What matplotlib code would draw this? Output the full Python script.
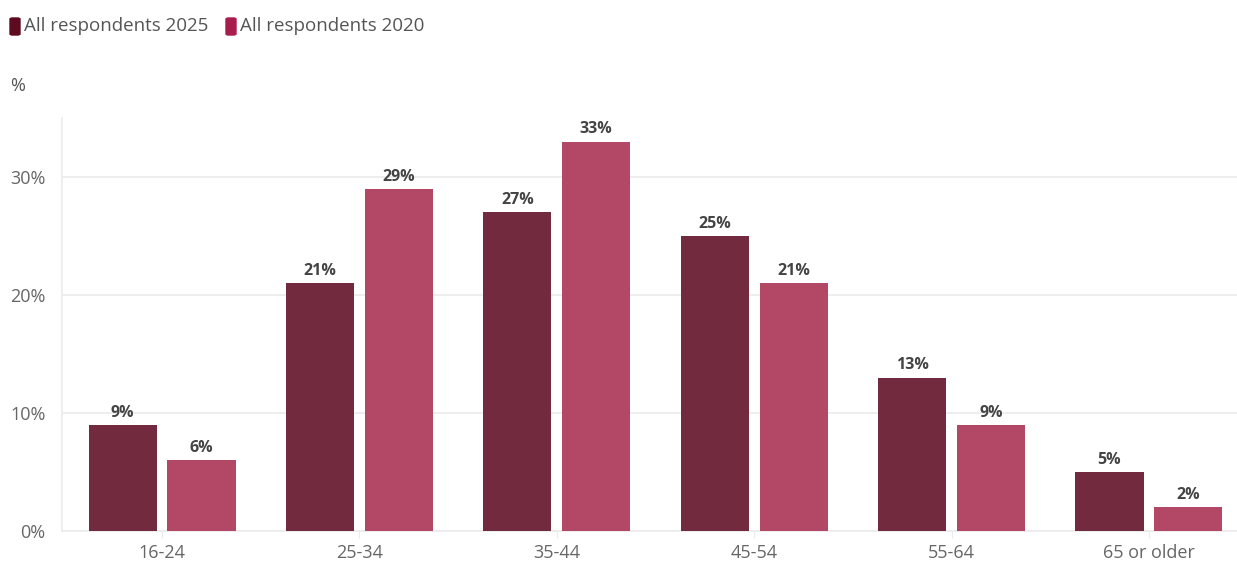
import numpy as np
import matplotlib.pyplot as plt
from matplotlib.patches import FancyBboxPatch

# Age distribution of respondents, 2025 vs 2020
categories = ["16-24", "25-34", "35-44", "45-54", "55-64", "65 or older"]
resp_2025 = [9, 21, 27, 25, 13, 5]
resp_2020 = [6, 29, 33, 21, 9, 2]
yticks = [0, 10, 20, 30]

plt.rcParams['font.family'] = ['Open Sans', 'DejaVu Sans']

dark = "#722a3e"
pink = "#b24766"
grid_c = "#ebebeb"
text_c = "#666666"

fig = plt.figure(figsize=(12.37, 5.62), dpi=100)
ax = fig.add_axes([62/1237, 1 - 531/562, 1 - 62/1237, (531 - 118)/562])

x = np.arange(len(categories))
w = 0.345
b1 = ax.bar(x - 0.2, resp_2025, w, color=dark, zorder=3)
b2 = ax.bar(x + 0.2, resp_2020, w, color=pink, zorder=3)

for bars, vals in ((b1, resp_2025), (b2, resp_2020)):
    for bar, v in zip(bars, vals):
        ax.annotate(f"{v}%", (bar.get_x() + bar.get_width()/2, v),
                    xytext=(0, 3), textcoords="offset points",
                    ha="center", va="bottom", fontsize=11.5,
                    fontweight="bold", color="#444444")

ax.set_xlim(-0.507, 5.446)
ax.set_ylim(0, 35)
ax.set_yticks(yticks)
ax.set_yticklabels([f"{t}%" for t in yticks])
ax.set_xticks(x)
ax.set_xticklabels(categories)
ax.yaxis.grid(True, color=grid_c, linewidth=1.2, zorder=0)
ax.tick_params(axis="y", length=0, pad=12, labelsize=13, labelcolor=text_c)
ax.tick_params(axis="x", length=5, color=grid_c, pad=4, labelsize=13, labelcolor=text_c)
for s in ["top", "right"]:
    ax.spines[s].set_visible(False)
for s in ["left", "bottom"]:
    ax.spines[s].set_color(grid_c)
    ax.spines[s].set_linewidth(1.2)

# legend boxes and labels at the top
for x0, col, label in ((10, "#5e0b22", "All respondents 2025"),
                       (226, "#a81d4b", "All respondents 2020")):
    fig.patches.append(FancyBboxPatch((x0/1237, 1 - 35/562), 10/1237, 17/562,
                                      boxstyle="round,pad=0,rounding_size=0.002",
                                      transform=fig.transFigure, color=col))
    fig.text((x0 + 14)/1237, 1 - 26/562, label, fontsize=13.5,
             color="#555555", va="center")
fig.text(10/1237, 1 - 86/562, "%", fontsize=13, color="#555555", va="center")

fig.savefig("out.png", dpi=100)
